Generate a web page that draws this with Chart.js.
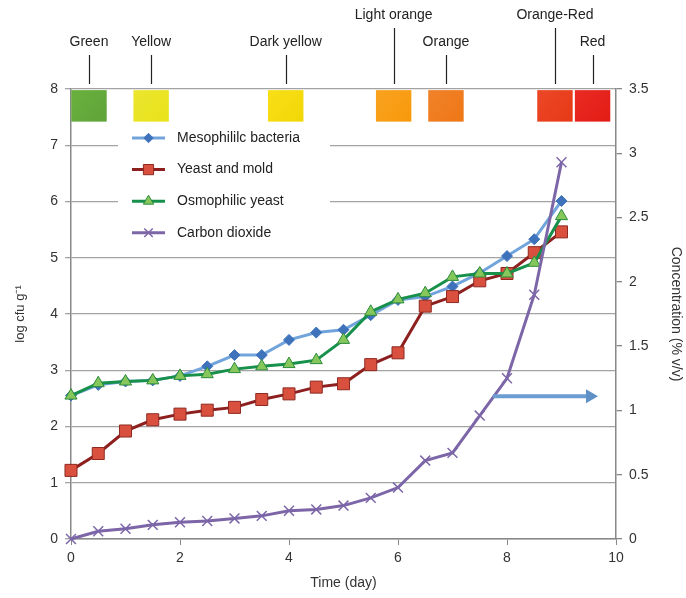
<!DOCTYPE html>
<html>
<head>
<meta charset="utf-8">
<script src="https://cdn.jsdelivr.net/npm/chart.js@4.4.1/dist/chart.umd.min.js"></script>
<style>
  html, body { margin: 0; padding: 0; background: #fff; }
</style>
</head>
<body>
<canvas id="chart" width="686" height="598"></canvas>
<script>
// sampling days (x axis)
const days = [0, 0.5, 1, 1.5, 2, 2.5, 3, 3.5, 4, 4.5, 5, 5.5, 6, 6.5, 7, 7.5, 8, 8.5, 9];

// log cfu/g (left axis)
const mesophilic = [2.55, 2.74, 2.80, 2.82, 2.90, 3.07, 3.27, 3.27, 3.54, 3.67, 3.72, 3.98, 4.25, 4.31, 4.49, 4.73, 5.03, 5.33, 6.01];
const yeastMold  = [1.22, 1.52, 1.92, 2.12, 2.22, 2.29, 2.34, 2.48, 2.58, 2.70, 2.76, 3.10, 3.31, 4.14, 4.31, 4.59, 4.72, 5.09, 5.46];
const osmophilic = [2.55, 2.77, 2.80, 2.82, 2.90, 2.93, 3.02, 3.07, 3.11, 3.18, 3.54, 4.04, 4.26, 4.37, 4.66, 4.72, 4.72, 4.91, 5.74];

// CO2 concentration % v/v (right axis)
const carbonDioxide = [0, 0.06, 0.08, 0.11, 0.13, 0.14, 0.16, 0.18, 0.22, 0.23, 0.26, 0.32, 0.40, 0.61, 0.67, 0.96, 1.25, 1.90, 2.93];

// colour chips along the top
const colorNames = ['Green', 'Yellow', 'Dark yellow', 'Light orange', 'Orange', 'Orange-Red', 'Red'];
const colorDays  = [0.33, 1.47, 3.94, 5.92, 6.88, 8.88, 9.57];
const colorRow   = [0, 0, 0, 1, 0, 1, 0];   // 1 = label on upper line
const colorFills = ['#69b13e', '#ebe62f', '#f8df17', '#f9a220', '#f0822a', '#eb4828', '#ea2b23'];

// arrow pointing to the CO2 axis: [fromDay, toDay, % v/v]
const arrowSpec = [7.74, 9.67, 1.11];

const FONT = '"Liberation Sans", Arial, Helvetica, sans-serif';

function toPts(ys) {
  return days.map(function (d, i) { return { x: d, y: ys[i] }; });
}

const datasets = [
  {
    label: 'Mesophililc bacteria', data: toPts(mesophilic), yAxisID: 'y', order: 4, clip: false,
    borderColor: '#72a4dc', borderWidth: 3, pointStyle: 'rectRot', pointRadius: 5.5,
    pointBackgroundColor: '#3e72bb', pointBorderColor: '#3e72bb', pointBorderWidth: 1
  },
  {
    label: 'Yeast and mold', data: toPts(yeastMold), yAxisID: 'y', order: 3, clip: false,
    borderColor: '#8e1f1f', borderWidth: 3, pointStyle: 'rect', pointRadius: 8.5,
    pointBackgroundColor: '#d9503f', pointBorderColor: '#8e2a22', pointBorderWidth: 1
  },
  {
    label: 'Osmophilic yeast', data: toPts(osmophilic), yAxisID: 'y', order: 2, clip: false,
    borderColor: '#16904a', borderWidth: 3, pointStyle: 'triangle', pointRadius: 7,
    pointBackgroundColor: '#86c75c', pointBorderColor: '#2c8c3c', pointBorderWidth: 1
  },
  {
    label: 'Carbon dioxide', data: toPts(carbonDioxide), yAxisID: 'y2', order: 1, clip: false,
    borderColor: '#7c66a8', borderWidth: 3, pointStyle: 'crossRot', pointRadius: 7,
    pointBackgroundColor: '#7c66a8', pointBorderColor: '#7c66a8', pointBorderWidth: 1.5
  }
];

// colour chips + their labels
const chipsPlugin = {
  id: 'chips',
  beforeDatasetsDraw(chart) {
    const ctx = chart.ctx, x = chart.scales.x, y = chart.scales.y;
    const halfW = (x.getPixelForValue(0.65) - x.getPixelForValue(0)) / 2;
    const top = y.getPixelForValue(7.98), bottom = y.getPixelForValue(7.42);
    ctx.save();
    colorDays.forEach(function (d, i) {
      const cx = x.getPixelForValue(d);
      const g = ctx.createLinearGradient(cx - halfW, top, cx + halfW, bottom);
      g.addColorStop(0, colorFills[i]);
      g.addColorStop(1, Chart.helpers.color(colorFills[i]).darken(0.08).rgbString());
      ctx.fillStyle = g;
      ctx.fillRect(cx - halfW, top, halfW * 2, bottom - top);
    });
    ctx.restore();
  },
  afterDraw(chart) {
    const ctx = chart.ctx, x = chart.scales.x;
    const area = chart.chartArea;
    ctx.save();
    ctx.font = '14px ' + FONT;
    ctx.fillStyle = '#222';
    ctx.strokeStyle = '#222';
    ctx.lineWidth = 1.2;
    ctx.textAlign = 'center';
    ctx.textBaseline = 'middle';
    colorNames.forEach(function (name, i) {
      const cx = x.getPixelForValue(colorDays[i]);
      const ty = colorRow[i] ? area.top - 74 : area.top - 47;
      ctx.fillText(name, cx, ty);
      ctx.beginPath();
      ctx.moveTo(Math.round(cx) + 0.5, ty + 13);
      ctx.lineTo(Math.round(cx) + 0.5, area.top - 5);
      ctx.stroke();
    });
    ctx.restore();
  }
};

// legend box inside the plot
const boxLegendPlugin = {
  id: 'boxLegend',
  afterDatasetsDraw(chart) {
    const ctx = chart.ctx;
    const area = chart.chartArea;
    const bx = area.left + 47, by = area.top + 34;
    ctx.save();
    ctx.fillStyle = '#fff';
    ctx.fillRect(bx, by, 212, 124);
    ctx.font = '14px ' + FONT;
    ctx.textAlign = 'left';
    ctx.textBaseline = 'middle';
    chart.data.datasets.forEach(function (ds, i) {
      const ry = by + 15 + i * 31.6;
      const lx = bx + 14;
      ctx.strokeStyle = ds.borderColor;
      ctx.lineWidth = 3;
      ctx.beginPath();
      ctx.moveTo(lx, ry);
      ctx.lineTo(lx + 33, ry);
      ctx.stroke();
      ctx.fillStyle = ds.pointBackgroundColor;
      ctx.strokeStyle = ds.pointBorderColor;
      ctx.lineWidth = ds.pointBorderWidth;
      Chart.helpers.drawPoint(ctx, {
        pointStyle: ds.pointStyle, rotation: 0,
        radius: ds.pointRadius * 0.85, borderWidth: ds.pointBorderWidth
      }, lx + 16.5, ry);
      ctx.fillStyle = '#222';
      ctx.fillText(ds.label, bx + 59, ry);
    });
    ctx.restore();
  }
};

// arrow toward the right axis
const arrowPlugin = {
  id: 'arrow',
  afterDatasetsDraw(chart) {
    const ctx = chart.ctx, x = chart.scales.x, y2 = chart.scales.y2;
    const x0 = x.getPixelForValue(arrowSpec[0]);
    const x1 = x.getPixelForValue(arrowSpec[1]);
    const yy = y2.getPixelForValue(arrowSpec[2]);
    ctx.save();
    ctx.strokeStyle = '#6d9dd0';
    ctx.fillStyle = '#5f90c6';
    ctx.lineWidth = 4;
    ctx.beginPath();
    ctx.moveTo(x0, yy);
    ctx.lineTo(x1 - 10, yy);
    ctx.stroke();
    ctx.beginPath();
    ctx.moveTo(x1 - 12, yy - 7);
    ctx.lineTo(x1, yy);
    ctx.lineTo(x1 - 12, yy + 7);
    ctx.closePath();
    ctx.fill();
    ctx.restore();
  }
};

const tickFont = { family: FONT, size: 14 };

new Chart(document.getElementById('chart'), {
  type: 'line',
  data: { datasets: datasets },
  plugins: [chipsPlugin, arrowPlugin, boxLegendPlugin],
  options: {
    responsive: false,
    animation: false,
    devicePixelRatio: 1,
    layout: { padding: { top: 89, left: 0, right: 0, bottom: 0 } },
    elements: { line: { tension: 0 } },
    plugins: { legend: { display: false }, tooltip: { enabled: false } },
    scales: {
      x: {
        type: 'linear', min: 0, max: 10,
        ticks: { stepSize: 2, color: '#333', font: tickFont, padding: 5, maxRotation: 0 },
        grid: { drawOnChartArea: false, drawTicks: true, tickLength: 6, color: '#888' },
        border: { color: '#888', width: 1.5 },
        title: { display: true, text: 'Time (day)', color: '#333', font: tickFont, padding: { top: 0, bottom: 6 } },
        afterFit: function (s) { s.height = 59; }
      },
      y: {
        type: 'linear', position: 'left', min: 0, max: 8,
        ticks: { stepSize: 1, color: '#333', font: tickFont, padding: 7 },
        grid: { color: '#a3a3a3', lineWidth: 1.3, tickLength: 6 },
        border: { color: '#888', width: 1.5 },
        title: { display: true, text: 'log cfu g\u207B\u00B9', color: '#333', font: { family: FONT, size: 13 }, padding: { top: 13, bottom: 0 } },
        afterFit: function (s) { s.width = 71; }
      },
      y2: {
        type: 'linear', position: 'right', min: 0, max: 3.5,
        ticks: {
          stepSize: 0.5, color: '#333', font: tickFont, padding: 7,
          callback: function (v) { return String(v); }
        },
        grid: { drawOnChartArea: false, drawTicks: true, tickLength: 6, color: '#888', lineWidth: 1.3 },
        border: { color: '#888', width: 1.5 },
        title: { display: true, text: 'Concentration (% v/v)', color: '#333', font: tickFont, padding: { top: 2, bottom: 0 } },
        afterFit: function (s) { s.width = 70; }
      }
    }
  }
});
</script>
</body>
</html>
